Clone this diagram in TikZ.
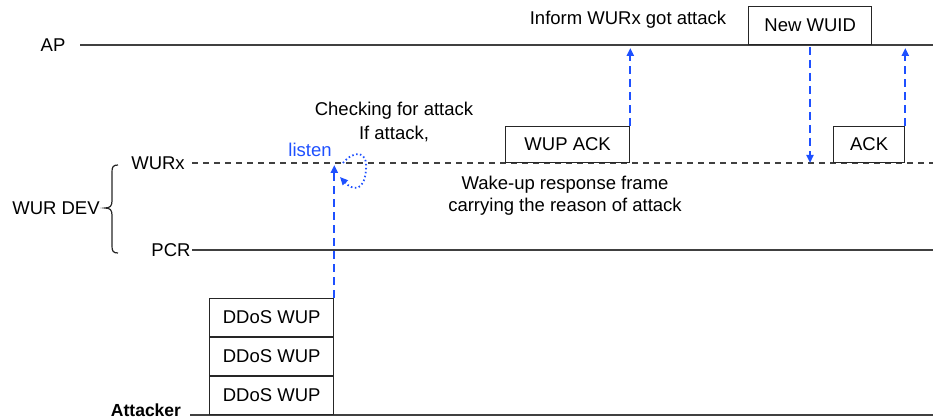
\documentclass[tikz,border=0pt]{standalone}
\usepackage{fontspec}
\setmainfont{Liberation Sans}
\usetikzlibrary{arrows.meta}
\definecolor{msgblue}{RGB}{30,80,255}
\tikzset{
  lifeline/.style={draw=black!75, line width=1.3pt},
  wurline/.style={draw=black!75, line width=1.3pt, dash pattern=on 6pt off 5pt},
  frame/.style={draw=black!85, line width=1.3pt, rectangle, inner sep=0pt, anchor=south west},
  msg/.style={draw=msgblue, line width=2pt, dash pattern=on 8pt off 5pt,
    -{Triangle[length=8pt,width=7pt]}},
  loopmsg/.style={draw=msgblue, line width=1.8pt, dash pattern=on 1.5pt off 2.5pt,
    -{Triangle[length=8pt,width=7pt]}},
  lbl/.style={inner sep=0pt, font=\fontsize{18.5}{22}\selectfont}
}
\begin{document}
\begin{tikzpicture}[x=1pt,y=-1pt]
\useasboundingbox (0,0) rectangle (933,419);

% lifeline labels
\node[lbl] (aplbl) at (53,45) {AP};
\node[lbl] (wurxlbl) at (158,163) {WURx};
\node[lbl] (pcrlbl) at (171,250) {PCR};
\node[lbl] (devlbl) at (56,208) {WUR DEV};
\node[lbl, anchor=base, font=\fontsize{17.5}{20}\selectfont\bfseries] (attlbl) at (146,416.5) {Attacker};

% lifelines
\coordinate (apL) at (80,45);    \coordinate (apR) at (933,45);
\coordinate (wurxL) at (192,163); \coordinate (wurxR) at (933,163);
\coordinate (pcrL) at (192,250); \coordinate (pcrR) at (933,250);
\coordinate (attL) at (190,415); \coordinate (attR) at (933,415);
\draw[lifeline] (apL) -- (apR);
\draw[wurline] (wurxL) -- (wurxR);
\draw[lifeline] (pcrL) -- (pcrR);
\draw[lifeline] (attL) -- (attR);

% brace grouping WURx and PCR
\draw[black!85, line width=1.2pt]
  (118,165) .. controls (113,165) and (112,167) .. (112,172) -- (112,201)
  .. controls (112,206) and (110,208) .. (105,208)
  .. controls (110,208) and (112,210) .. (112,215) -- (112,246)
  .. controls (112,251) and (113,253) .. (118,253);

% frames
\node[frame, minimum width=124pt, minimum height=37.7pt, lbl] (d1) at (209,415) {DDoS WUP};
\node[frame, minimum width=124pt, minimum height=37.7pt, lbl, anchor=south west] (d2) at (d1.north west) {DDoS WUP};
\node[frame, minimum width=124pt, minimum height=37.7pt, lbl, anchor=south west] (d3) at (d2.north west) {DDoS WUP};
\node[frame, minimum width=124pt, minimum height=36pt, lbl] (wupack) at (505,163) {WUP ACK};
\node[frame, minimum width=123pt, minimum height=38pt, lbl] (newwuid) at (748,45) {New WUID};
\node[frame, minimum width=71pt, minimum height=36pt, lbl] (ack) at (833,163) {ACK};

% messages
\draw[msg, shorten >=2pt] (d3.north east) -- (d3.north east |- wurxR);
\draw[msg, shorten >=3pt] (wupack.north east) -- (wupack.north east |- apR);
\draw[msg, shorten <=2pt] (810,45) -- (810,163);
\draw[msg, shorten >=3pt] (ack.north east) -- (ack.north east |- apR);

% self check loop on WURx
\draw[loopmsg] (343,163) .. controls (354,150) and (368,150) .. (366,170)
  .. controls (364,193) and (352,190) .. (340,177);

% annotations
\node[lbl, text=msgblue] (listen) at (310,150) {listen};
\node[lbl, align=center, font=\fontsize{18.5}{24}\selectfont] (check) at (394,122) {Checking for attack\\If attack,};
\node[lbl] (inform) at (628,20) {Inform WURx got attack};
\node[lbl, align=center] (wakeup) at (565,196) {Wake-up response frame\\carrying the reason of attack};
\end{tikzpicture}
\end{document}
